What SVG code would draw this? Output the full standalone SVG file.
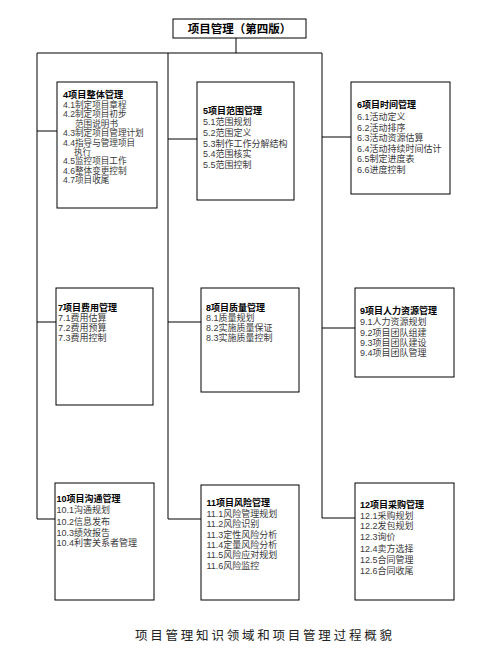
<svg xmlns="http://www.w3.org/2000/svg" width="503" height="670" viewBox="0 0 503 670">
<style>
.box{fill:#fff;stroke:#000;stroke-width:1}
.ln{stroke:#000;stroke-width:1;fill:none}
text{font-family:"Liberation Sans","Noto Sans CJK SC",sans-serif;font-size:9px;fill:#3a3a3a}
.h{font-weight:bold;fill:#000}
.top{font-size:11.5px;font-weight:bold;fill:#000}
.cap{font-family:"Liberation Serif","Noto Sans CJK SC",serif;font-size:12.5px;fill:#222}
</style>
<rect width="503" height="670" fill="#fff"/>
<g id="connectors">
<line class="ln" x1="236" y1="38" x2="236" y2="53"/>
<line class="ln" x1="37" y1="53" x2="322" y2="53"/>
<line class="ln" x1="37" y1="53" x2="37" y2="519"/>
<line class="ln" x1="168" y1="53" x2="168" y2="519"/>
<line class="ln" x1="322" y1="53" x2="322" y2="518"/>
<line class="ln" x1="37" y1="131" x2="57" y2="131"/>
<line class="ln" x1="168" y1="139" x2="197" y2="139"/>
<line class="ln" x1="322" y1="137" x2="351" y2="137"/>
<line class="ln" x1="37" y1="322" x2="56" y2="322"/>
<line class="ln" x1="168" y1="322" x2="201" y2="322"/>
<line class="ln" x1="322" y1="328" x2="355" y2="328"/>
<line class="ln" x1="37" y1="519" x2="55" y2="519"/>
<line class="ln" x1="168" y1="519" x2="201" y2="519"/>
<line class="ln" x1="322" y1="518" x2="355" y2="518"/>
</g>
<g id="root">
<rect class="box" x="173" y="19" width="133" height="19"/>
<text class="top" x="239.5" y="32.5" text-anchor="middle">项目管理（第四版）</text>
</g>
<g id="n4">
<rect class="box" x="57" y="82" width="100" height="126"/>
<text x="63" style="font-size:8.6px"><tspan class="h" y="98" style="font-size:9.2px">4项目整体管理</tspan><tspan x="63" y="107.8">4.1制定项目章程</tspan><tspan x="63" y="117.4">4.2制定项目初步</tspan><tspan x="75" y="126.6">范围说明书</tspan><tspan x="63" y="136">4.3制定项目管理计划</tspan><tspan x="63" y="145.5">4.4指导与管理项目</tspan><tspan x="74" y="154.7">执行</tspan><tspan x="63" y="164.1">4.5监控项目工作</tspan><tspan x="63" y="173.5">4.6整体变更控制</tspan><tspan x="63" y="182.9">4.7项目收尾</tspan></text>
</g>
<g id="n5">
<rect class="box" x="197" y="82" width="97" height="118"/>
<text x="203"><tspan class="h" y="114">5项目范围管理</tspan><tspan x="203" y="125">5.1范围规划</tspan><tspan x="203" y="136">5.2范围定义</tspan><tspan x="203" y="146.6">5.3制作工作分解结构</tspan><tspan x="203" y="157.3">5.4范围核实</tspan><tspan x="203" y="168.3">5.5范围控制</tspan></text>
</g>
<g id="n6">
<rect class="box" x="351" y="82" width="99" height="112"/>
<text x="357"><tspan class="h" y="108.3">6项目时间管理</tspan><tspan x="357" y="120">6.1活动定义</tspan><tspan x="357" y="130.6">6.2活动排序</tspan><tspan x="357" y="140.8">6.3活动资源估算</tspan><tspan x="357" y="151.6">6.4活动持续时间估计</tspan><tspan x="357" y="162.3">6.5制定进度表</tspan><tspan x="357" y="173.3">6.6进度控制</tspan></text>
</g>
<g id="n7">
<rect class="box" x="56" y="288" width="97" height="117"/>
<text x="58"><tspan class="h" y="310.6">7项目费用管理</tspan><tspan x="58" y="320.8">7.1费用估算</tspan><tspan x="58" y="330.8">7.2费用预算</tspan><tspan x="58" y="340.8">7.3费用控制</tspan></text>
</g>
<g id="n8">
<rect class="box" x="201" y="288" width="98" height="104"/>
<text x="206"><tspan class="h" y="310.6">8项目质量管理</tspan><tspan x="206" y="320.8">8.1质量规划</tspan><tspan x="206" y="330.8">8.2实施质量保证</tspan><tspan x="206" y="340.8">8.3实施质量控制</tspan></text>
</g>
<g id="n9">
<rect class="box" x="355" y="288" width="99" height="89"/>
<text x="360"><tspan class="h" y="314">9项目人力资源管理</tspan><tspan x="360" y="325">9.1人力资源规划</tspan><tspan x="360" y="335.6">9.2项目团队组建</tspan><tspan x="360" y="345.8">9.3项目团队建设</tspan><tspan x="360" y="356">9.4项目团队管理</tspan></text>
</g>
<g id="n10">
<rect class="box" x="55" y="483" width="99" height="117"/>
<text x="56.5"><tspan class="h" y="501.6">10项目沟通管理</tspan><tspan x="56.5" y="513.3">10.1沟通规划</tspan><tspan x="56.5" y="525">10.2信息发布</tspan><tspan x="56.5" y="535.8">10.3绩效报告</tspan><tspan x="56.5" y="546.3">10.4利害关系者管理</tspan></text>
</g>
<g id="n11">
<rect class="box" x="201" y="485" width="98" height="115"/>
<text x="206.5"><tspan class="h" y="506">11项目风险管理</tspan><tspan x="206.5" y="516.6">11.1风险管理规划</tspan><tspan x="206.5" y="527">11.2风险识别</tspan><tspan x="206.5" y="537.6">11.3定性风险分析</tspan><tspan x="206.5" y="548">11.4定量风险分析</tspan><tspan x="206.5" y="558.4">11.5风险应对规划</tspan><tspan x="206.5" y="568.8">11.6风险监控</tspan></text>
</g>
<g id="n12">
<rect class="box" x="355" y="483" width="99" height="117"/>
<text x="360"><tspan class="h" y="508.3">12项目采购管理</tspan><tspan x="360" y="518.6">12.1采购规划</tspan><tspan x="360" y="529">12.2发包规划</tspan><tspan x="360" y="540">12.3询价</tspan><tspan x="360" y="551.6">12.4卖方选择</tspan><tspan x="360" y="563">12.5合同管理</tspan><tspan x="360" y="573.5">12.6合同收尾</tspan></text>
</g>
<text class="cap" x="135" y="639.5" textLength="257" lengthAdjust="spacing">项目管理知识领域和项目管理过程概貌</text>
</svg>
